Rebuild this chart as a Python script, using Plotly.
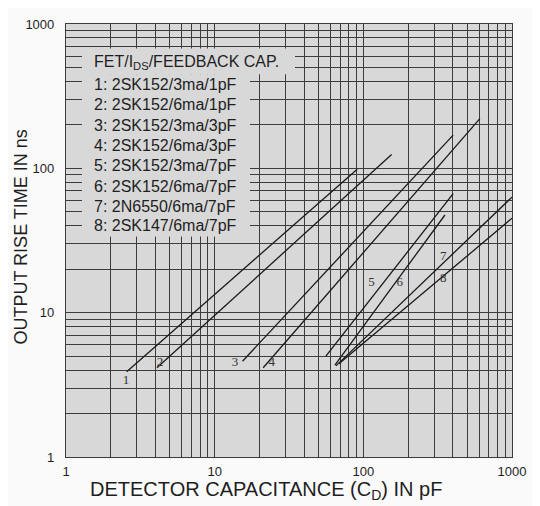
import plotly.graph_objects as go

# ---- data ----
curve_ids = ["1", "2", "3", "4", "5", "6", "7", "8"]
legend_rows = [
    "1: 2SK152/3ma/1pF",
    "2: 2SK152/6ma/1pF",
    "3: 2SK152/3ma/3pF",
    "4: 2SK152/6ma/3pF",
    "5: 2SK152/3ma/7pF",
    "6: 2SK152/6ma/7pF",
    "7: 2N6550/6ma/7pF",
    "8: 2SK147/6ma/7pF",
]
legend_title = "FET/I<sub>DS</sub>/FEEDBACK CAP."
cap_start = [2.56, 4.09, 15.4, 21.2, 56.0, 64.4, 65.4, 68.5]
cap_end = [91, 155, 402, 608, 402, 354, 1000, 1000]
rise_start = [3.9, 4.15, 4.61, 4.15, 5.0, 4.33, 4.28, 4.42]
rise_end = [98.6, 124.7, 170, 221, 66.7, 47.5, 63.2, 45.1]
label_cap = [2.53, 4.29, 13.7, 24.2, 113.7, 176, 345, 345]
label_rise = [3.35, 4.47, 4.47, 4.47, 16.1, 16.1, 24.5, 17.1]
tick_vals = [1, 10, 100, 1000]
tick_text = ["1", "10", "100", "1000"]
minor_vals = [m * d for d in (1, 10, 100) for m in range(2, 10)]

BG = "#d8d8d8"
PAPER = "#fafafa"
GRID = "#3c3c3c"
INK = "#1e1e1e"
SANS = "Liberation Sans, Arial, sans-serif"

fig = go.Figure()
for i in range(len(curve_ids)):
    fig.add_trace(go.Scatter(
        x=[cap_start[i], cap_end[i]], y=[rise_start[i], rise_end[i]],
        mode="lines", line=dict(color="#1a1a1a", width=1.3),
        showlegend=False, hoverinfo="skip"))
fig.add_trace(go.Scatter(
    x=label_cap, y=label_rise, text=curve_ids, mode="text",
    textfont=dict(family="Liberation Serif, serif", size=13, color="#333"),
    showlegend=False, hoverinfo="skip"))

# page offset of the figure (browser body margin)
OFF = 8
W, H = 540 - OFF, 506 - OFF
# plot box in page pixels
PL, PR, PT, PB = 66, 512, 17, 457
L, T = PL - OFF, PT - OFF
R, B = W - (PR - OFF), H - (PB - OFF)
pw, ph = PR - PL, PB - PT

def px(xp):
    return (xp - PL) / pw

def py(yp):
    return (PB - yp) / ph

# cover of the grid behind the key text
fig.add_shape(type="rect", xref="paper", yref="paper", x0=px(82), x1=px(295),
              y0=py(68), y1=py(42), fillcolor=BG, line_width=0, layer="above")
fig.add_shape(type="rect", xref="paper", yref="paper", x0=px(82), x1=px(250),
              y0=py(233), y1=py(68), fillcolor=BG, line_width=0, layer="above")

fig.add_annotation(xref="paper", yref="paper", x=px(92), y=py(56), text=legend_title,
                   showarrow=False, xanchor="left", yanchor="middle",
                   font=dict(family=SANS, size=16, color=INK))
row_y = [78, 99, 120, 140, 161, 182, 202, 222]
for txt, yy in zip(legend_rows, row_y):
    fig.add_annotation(xref="paper", yref="paper", x=px(92), y=py(yy), text=txt,
                       showarrow=False, xanchor="left", yanchor="middle",
                       font=dict(family=SANS, size=16, color=INK))

fig.add_annotation(xref="paper", yref="paper", x=px(266), y=py(491),
                   text="DETECTOR CAPACITANCE (C<sub>D</sub>) IN pF", showarrow=False,
                   xanchor="center", yanchor="middle",
                   font=dict(family=SANS, size=20, color=INK))
fig.add_annotation(xref="paper", yref="paper", x=px(21), y=py(234),
                   text="OUTPUT RISE TIME IN ns", showarrow=False, textangle=-90,
                   xanchor="center", yanchor="middle",
                   font=dict(family=SANS, size=18, color=INK))

axis_common = dict(
    type="log", tickmode="array", tickvals=tick_vals, ticktext=tick_text,
    showgrid=True, gridcolor=GRID, gridwidth=1.1,
    showline=True, mirror=True, linecolor=GRID, linewidth=1.2,
    ticks="", tickfont=dict(family=SANS, size=13, color=INK),
    minor=dict(tickmode="array", tickvals=minor_vals, showgrid=True,
               gridcolor=GRID, gridwidth=1.1, ticks=""),
    zeroline=False,
)
fig.update_xaxes(range=[0, 3], ticklabelstandoff=2, **axis_common)
fig.update_yaxes(range=[0, 3], ticklabelstandoff=8, **axis_common)

fig.update_layout(
    width=W, height=H, margin=dict(l=L, r=R, t=T, b=B),
    plot_bgcolor=BG, paper_bgcolor=PAPER, showlegend=False,
)
fig.write_html("out.html")
